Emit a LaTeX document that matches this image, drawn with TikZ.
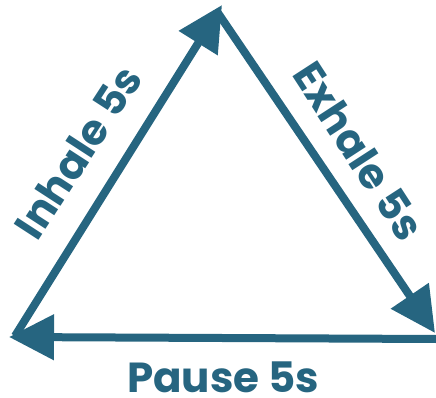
\documentclass[tikz,border=0pt]{standalone}
\usepackage{fontspec}
\setmainfont{Poppins}
\usetikzlibrary{arrows.meta}
\definecolor{teal}{RGB}{38,101,128}
\begin{document}
\begin{tikzpicture}[x=1pt,y=-1pt,
  edge/.style={draw=teal,line width=8pt,-{Triangle[length=45pt,width=44pt]}},
  lbl/.style={text=teal,font=\fontsize{42}{42}\selectfont\bfseries,inner sep=0pt}]
\useasboundingbox (0,0) rectangle (436,398);
\coordinate (A) at (15,336);
\coordinate (At) at (9,337);
\coordinate (B) at (218,13);
\coordinate (Bt) at (222,5);
\coordinate (C) at (436,339);
\coordinate (Ct) at (435,333);
\draw[edge] (A) -- (Bt);
\draw[edge] (B) -- (Ct);
\draw[edge] (C) -- (At);
\node[lbl,rotate=57] (inh) at (78,152) {Inhale 5s};
\node[lbl,rotate=-57] (exh) at (359,151) {Exhale 5s};
\node[lbl] (pau) at (223,377) {Pause 5s};
\end{tikzpicture}
\end{document}
